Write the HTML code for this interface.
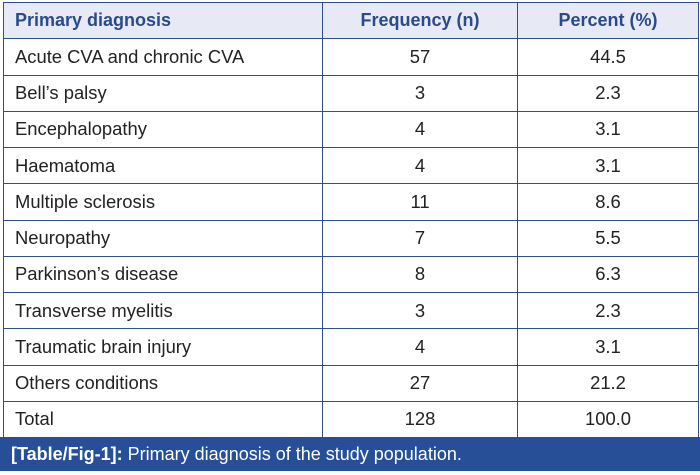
<!DOCTYPE html>
<html><head><style>
body{margin:0;width:700px;height:475px;background:#fff;overflow:hidden;font-family:"Liberation Sans",Arial,sans-serif;}
table{position:absolute;left:3px;top:2px;border-collapse:collapse;width:695px;height:435px;table-layout:fixed;}
td{border:1px solid #2d4f8e;height:36.25px;padding:0 0 0 11px;font-size:18.4px;color:#222;box-sizing:border-box;}
td.c{text-align:center;padding:0;}
tr.h td{background:#e7e9f4;color:#2a4a8d;font-weight:bold;font-size:18px;}
.cap{position:absolute;left:0;top:437px;width:700px;height:34px;background:#264f98;color:#fff;font-size:18px;line-height:34px;padding-left:11px;box-sizing:border-box;}
</style></head><body>
<table>
<colgroup><col style="width:319px"><col style="width:195px"><col style="width:181px"></colgroup>
<tr class="h"><td>Primary diagnosis</td><td class="c">Frequency (n)</td><td class="c">Percent (%)</td></tr>
<tr><td>Acute CVA and chronic CVA</td><td class="c">57</td><td class="c">44.5</td></tr>
<tr><td>Bell’s palsy</td><td class="c">3</td><td class="c">2.3</td></tr>
<tr><td>Encephalopathy</td><td class="c">4</td><td class="c">3.1</td></tr>
<tr><td>Haematoma</td><td class="c">4</td><td class="c">3.1</td></tr>
<tr><td>Multiple sclerosis</td><td class="c">11</td><td class="c">8.6</td></tr>
<tr><td>Neuropathy</td><td class="c">7</td><td class="c">5.5</td></tr>
<tr><td>Parkinson’s disease</td><td class="c">8</td><td class="c">6.3</td></tr>
<tr><td>Transverse myelitis</td><td class="c">3</td><td class="c">2.3</td></tr>
<tr><td>Traumatic brain injury</td><td class="c">4</td><td class="c">3.1</td></tr>
<tr><td>Others conditions</td><td class="c">27</td><td class="c">21.2</td></tr>
<tr><td>Total</td><td class="c">128</td><td class="c">100.0</td></tr>
</table>
<div class="cap"><b>[Table/Fig-1]:</b> Primary diagnosis of the study population.</div>
</body></html>
